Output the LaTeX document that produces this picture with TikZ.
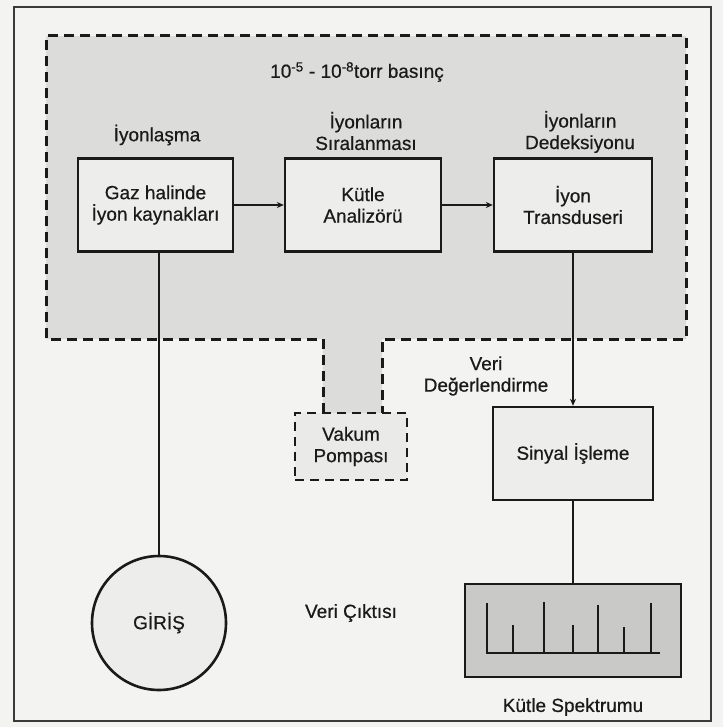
\documentclass[tikz,border=0pt]{standalone}
\usepackage{fontspec}
\setmainfont{Liberation Sans}[FakeBold=0.6]
\newfontfamily\medfont{Liberation Sans}[FakeBold=0.6]
\usetikzlibrary{arrows.meta,calc}
\definecolor{bgc}{HTML}{F3F3F1}
\definecolor{regionc}{HTML}{DCDCDA}
\definecolor{boxc}{HTML}{EDEDEB}
\definecolor{pumpc}{HTML}{EAEAE8}
\definecolor{specc}{HTML}{C9C9C7}
\definecolor{ink}{HTML}{1A1A1A}
\definecolor{framec}{HTML}{3A3A3A}
\newcommand\mylbl{\medfont\fontsize{19}{21.5}\selectfont}
\tikzset{
  blockbox/.style={draw=ink, line width=2.4pt, fill=boxc, align=center, inner sep=0pt, font=\mylbl, text=ink},
  pumpbox/.style={draw=ink, line width=2.6pt, dash pattern=on 9pt off 6pt, fill=pumpc, align=center, inner sep=0pt, font=\mylbl, text=ink},
  lbl/.style={align=center, inner sep=0pt, font=\mylbl, text=ink},
  conn/.style={draw=ink, line width=1.6pt},
  tip/.style={-{Stealth[length=7pt,width=6pt]}},
  dashline/.style={draw=ink, line width=3pt, dash pattern=on 10pt off 6pt},
  spike/.style={draw=ink, line width=2pt},
  girisc/.style={circle, draw=ink, line width=2.6pt, fill=boxc, minimum size=134pt, inner sep=0pt, font=\mylbl, text=ink}
}
\begin{document}
\begin{tikzpicture}[x=1pt,y=-1pt]
\useasboundingbox (0,0) rectangle (723,727);
\fill[bgc] (0,0) rectangle (723,727);
\draw[framec, line width=2pt] (14,7) rectangle (711,721);
% vacuum region
\fill[regionc] (46,36) -- (686,36) -- (686,339) -- (382,339) -- (382,413) -- (323,413) -- (323,339) -- (46,339) -- cycle;
\draw[dashline] (323,413) -- (323,339) -- (46,339) -- (46,36) -- (686,36) -- (686,339) -- (382,339) -- (382,413);
% blocks
\node[blockbox, minimum width=155pt, minimum height=93pt] (src) at (155.5,205) {Gaz halinde\\İyon kaynakları};
\node[blockbox, minimum width=156pt, minimum height=93pt] (ana) at (363,205) {Kütle\\Analizörü};
\node[blockbox, minimum width=158pt, minimum height=93pt] (trd) at (573,205) {İyon\\Transduseri};
\node[blockbox, minimum width=160pt, minimum height=93pt] (sig) at (573,453.5) {Sinyal İşleme};
\node[pumpbox, minimum width=112pt, minimum height=67pt] (pump) at (351,446.5) {Vakum\\Pompası};
\node[blockbox, fill=specc, minimum width=216pt, minimum height=93pt] (spec) at (573,630.5) {};
\node[girisc] (giris) at (159,623) {GİRİŞ};
% labels
\node[lbl] (title) at (357,72) {10\textsuperscript{-5} - 10\textsuperscript{-8}torr basınç};
\node[lbl] (l1) at (157,135) {İyonlaşma};
\node[lbl] (l2) at (366,131) {İyonların\\Sıralanması};
\node[lbl] (l3) at (580,132) {İyonların\\Dedeksiyonu};
\node[lbl] (veri) at (486,376) {Veri\\Değerlendirme};
\node[lbl] (cikti) at (351,613) {Veri Çıktısı};
\node[lbl] (ks) at (573,707) {Kütle Spektrumu};
% connectors
\draw[conn, tip] (src.east) -- (ana.west);
\draw[conn, tip] (ana.east) -- (trd.west);
\draw[conn, tip] (trd.south) -- (sig.north);
\draw[conn] (giris.north) -- (giris.north |- src.south);
\draw[conn] (sig.south) -- (spec.north);
% spectrum
\draw[spike] (487,603) -- (487,653) -- (660,653);
\draw[spike] (513,653) -- (513,625);
\draw[spike] (544,653) -- (544,602);
\draw[spike] (573,653) -- (573,625);
\draw[spike] (598,653) -- (598,605);
\draw[spike] (624,653) -- (624,627);
\draw[spike] (651,653) -- (651,603);
\end{tikzpicture}
\end{document}
